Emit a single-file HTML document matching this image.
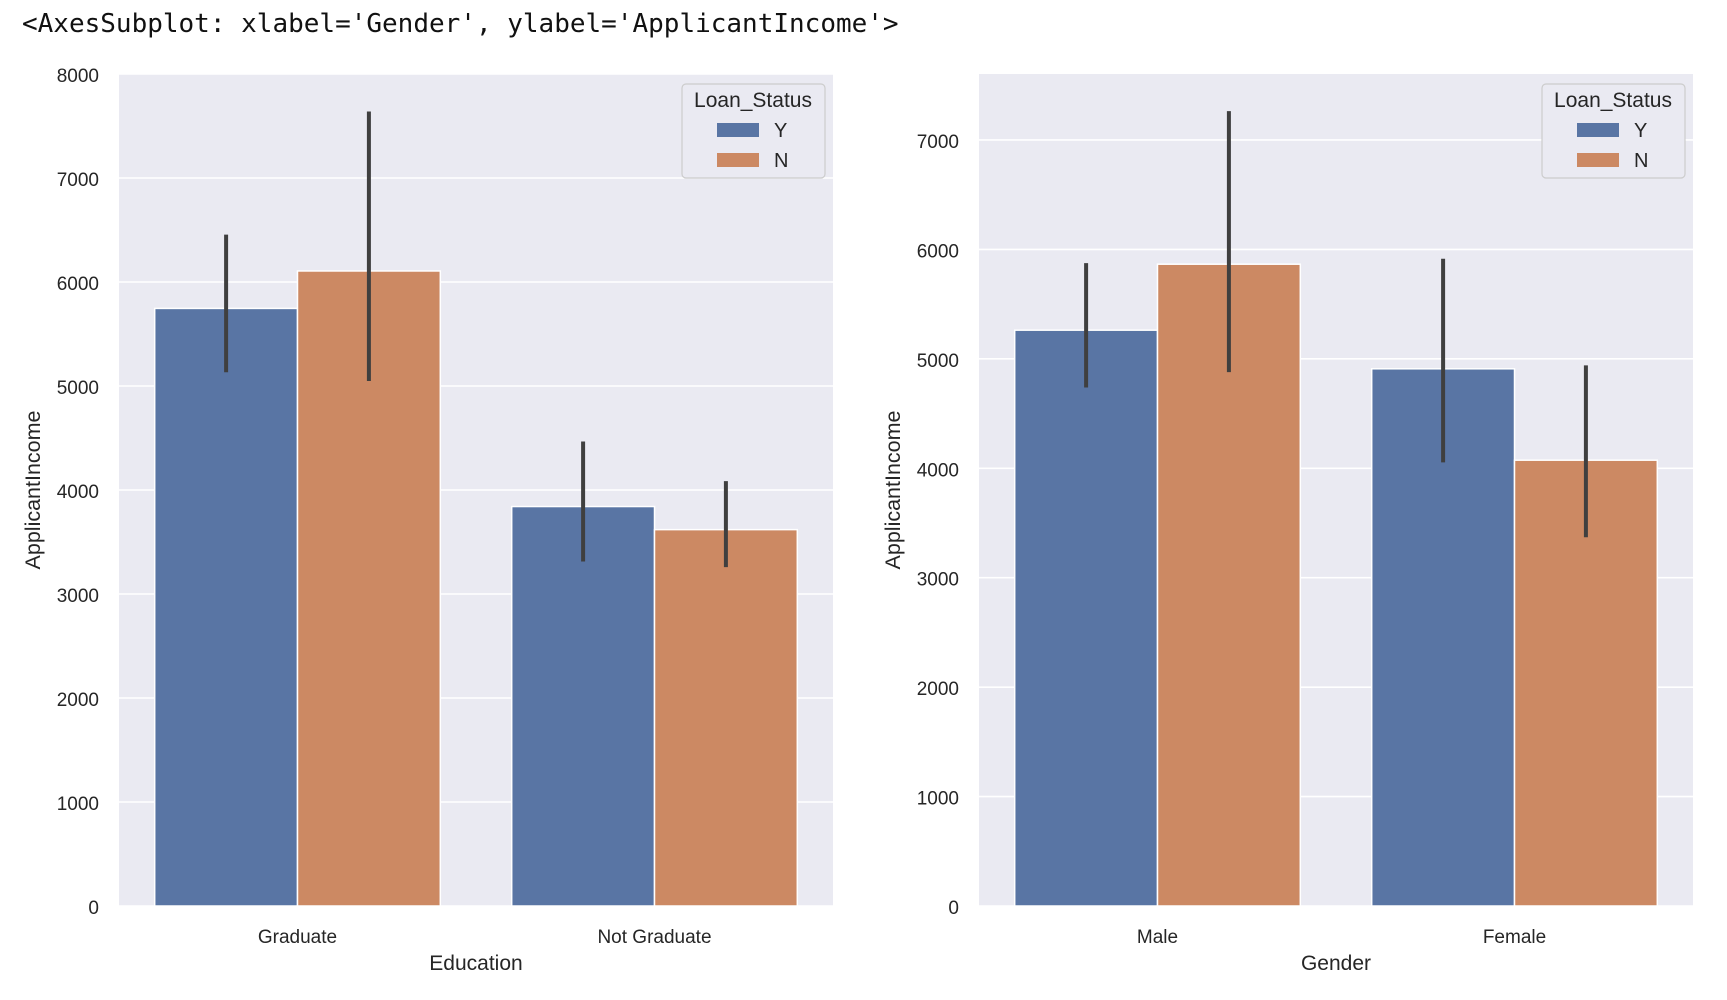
<!DOCTYPE html>
<html><head><meta charset="utf-8"><style>
html,body{margin:0;padding:0;background:#fff;width:1727px;height:1000px;overflow:hidden}
svg text{font-family:"Liberation Sans",sans-serif;fill:#262626}
</style></head><body>
<svg id="chart" width="1727" height="1000" xmlns="http://www.w3.org/2000/svg">
<text x="22" y="32" style="font-family:'DejaVu Sans Mono','Liberation Mono',monospace;font-size:26px;fill:#111">&lt;AxesSubplot: xlabel='Gender', ylabel='ApplicantIncome'&gt;</text>
</svg>
<script>
const eduCategories = ["Graduate", "Not Graduate"];
const eduY = [5746, 3841];
const eduN = [6106, 3619];
const eduYErr = [[5132, 6455], [3312, 4466]];
const eduNErr = [[5048, 7640], [3259, 4085]];
const eduTicks = [0,1000,2000,3000,4000,5000,6000,7000,8000];

const genCategories = ["Male", "Female"];
const genY = [5262, 4909];
const genN = [5865, 4074];
const genYErr = [[4738, 5875], [4054, 5915]];
const genNErr = [[4879, 7264], [3370, 4940]];
const genTicks = [0,1000,2000,3000,4000,5000,6000,7000];

const NS = "http://www.w3.org/2000/svg";
const svg = document.getElementById('chart');
function mk(tag, attrs, parent, text){
  const e = document.createElementNS(NS, tag);
  for (const k in attrs) e.setAttribute(k, attrs[k]);
  if (text !== undefined) e.textContent = text;
  (parent || svg).appendChild(e);
  return e;
}
function panel(opt){
  const {x0,x1,y0,y1,ymax,cats,ys,ns,yerr,nerr,ticks,xlabel,prefix} = opt;
  const g = mk('g', {});
  
  
  const bg = mk('rect', {x:x0, y:y0, width:x1-x0, height:y1-y0, fill:'#eaeaf2'}, g);
  
  
  const yS = v => y1 - v / ymax * (y1 - y0);
  const band = (x1 - x0) / cats.length;
  const xS = i => x0 + band * (i + 0.5);
  ticks.forEach(t => {
    const gl = mk('line', {x1:x0, x2:x1, y1:yS(t), y2:yS(t), stroke:'#fff', 'stroke-width':1.6}, g);
    
    
    const tl = mk('text', {x:x0-20, y:yS(t)+8, 'text-anchor':'end', 'font-size':19}, g, String(t));
    
    
  });
  const bw = band * 0.4;
  cats.forEach((c, i) => {
    [[ys[i], yerr[i], '#5975a4', 'y', -1], [ns[i], nerr[i], '#cc8963', 'n', 0]].forEach(([v, e, col, s, off]) => {
      const bx = xS(i) + off * bw;
      const r = mk('rect', {x:bx, y:yS(v), width:bw, height:y1 - yS(v), fill:col, stroke:'#fff', 'stroke-width':1.5}, g);
      
      
      const el = mk('line', {x1:bx+bw/2, x2:bx+bw/2, y1:yS(e[0]), y2:yS(e[1]), stroke:'#3f3f3f', 'stroke-width':4}, g);
      
      
    });
    const xl = mk('text', {x:xS(i), y:y1+37, 'text-anchor':'middle', 'font-size':19}, g, c);
    
    
  });
  const xt = mk('text', {x:(x0+x1)/2, y:y1+64, 'text-anchor':'middle', 'font-size':21}, g, xlabel);
  
  
  const yt = mk('text', {x:0, y:0, 'text-anchor':'middle', 'font-size':21.5, transform:`translate(${x0-79},${(y0+y1)/2}) rotate(-90)`}, g, 'ApplicantIncome');
  
  
  const lx = x1 - 151;
  const lg = mk('g', {}, g);
  
  
  mk('rect', {x:lx, y:84, width:143, height:94, rx:4, fill:'#eaeaf2', stroke:'#cccccc', 'stroke-width':1.2}, lg);
  mk('text', {x:lx+71, y:107, 'text-anchor':'middle', 'font-size':21}, lg, 'Loan_Status');
  [['Y', '#5975a4', 130], ['N', '#cc8963', 160]].forEach(([lab, col, cy]) => {
    const p = mk('rect', {x:lx+35, y:cy-7, width:42, height:14, fill:col}, lg);
    
    
    const t = mk('text', {x:lx+92, y:cy+7, 'font-size':20}, lg, lab);
    
    
  });
}
panel({x0:119, x1:833, y0:74, y1:906, ymax:8000, cats:eduCategories, ys:eduY, ns:eduN, yerr:eduYErr, nerr:eduNErr, ticks:eduTicks, xlabel:'Education', prefix:'education'});
panel({x0:979, x1:1693, y0:74, y1:906, ymax:7603, cats:genCategories, ys:genY, ns:genN, yerr:genYErr, nerr:genNErr, ticks:genTicks, xlabel:'Gender', prefix:'gender'});
</script>
</body></html>
